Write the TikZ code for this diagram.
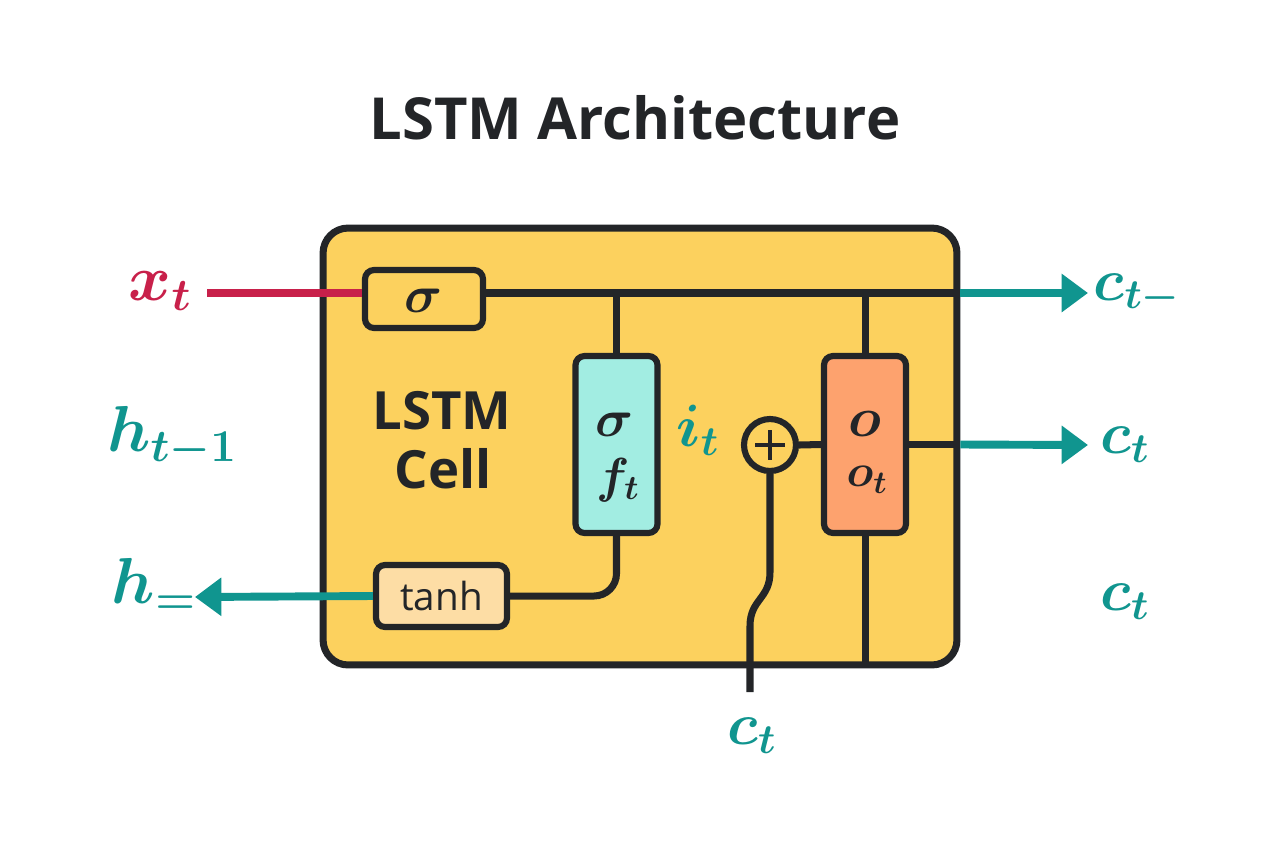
\RequirePackage{fix-cm}
\documentclass[tikz,border=0pt]{standalone}
\usepackage{fontspec}
\newfontfamily\headfont{Open Sans}
\usetikzlibrary{arrows.meta,calc}
\definecolor{ink}{HTML}{232528}
\definecolor{cellyellow}{HTML}{FCD15E}
\definecolor{gatecyan}{HTML}{A2EDE2}
\definecolor{gateorange}{HTML}{FDA26E}
\definecolor{tanhfill}{HTML}{FDDDA5}
\definecolor{tealc}{HTML}{10958F}
\definecolor{redc}{HTML}{C8204A}
\begin{document}
\begin{tikzpicture}[x=0.02cm,y=-0.02cm,
  wire/.style={draw=ink,line width=4pt},
  redwire/.style={draw=redc,line width=4.5pt},
  tealwire/.style={draw=tealc,line width=4.5pt,-{Triangle[length=15pt,width=21pt]}},
  gate/.style={draw=ink,line width=3.5pt,rounded corners=0.18cm,inner sep=0pt},
  biglabel/.style={font=\fontsize{37}{44}\selectfont\boldmath,inner sep=0pt},
  clabel/.style={font=\fontsize{34}{40}\selectfont\boldmath,inner sep=0pt,text=tealc},
  gatetext/.style={font=\fontsize{30}{36}\selectfont\boldmath,inner sep=0pt,text=ink},
  sanstext/.style={font=\headfont\bfseries\fontsize{30}{33}\selectfont,inner sep=0pt,text=ink}]
\useasboundingbox (0,0) rectangle (1280,853);
\fill[white] (0,0) rectangle (1280,853);

% title
\node[font=\headfont\bfseries\fontsize{33}{40}\selectfont,text=ink,inner sep=0pt] (title) at (635,118) {LSTM Architecture};

% cell
\node[draw=ink,fill=cellyellow,line width=4pt,rounded corners=0.5cm,
      minimum width=12.68cm,minimum height=8.74cm] (cell) at (640,446.5) {};

% gates
\node[gate,fill=cellyellow,minimum width=2.36cm,minimum height=1.16cm] (sig) at (424,299) {};
\node[gatetext] (sigtxt) at (424,301) {$\sigma$};
\node[gate,fill=gatecyan,minimum width=1.64cm,minimum height=3.54cm] (ft) at (616.5,444.5) {};
\node[gatetext] (ftsig) at (615,425) {$\sigma$};
\node[gatetext,font=\fontsize{28}{34}\selectfont\boldmath] (ftf) at (618,480) {$f_t$};
\node[gate,fill=gateorange,minimum width=1.64cm,minimum height=3.54cm] (ot) at (865,444.5) {};
\node[gatetext,font=\fontsize{32}{38}\selectfont\boldmath] (oto) at (865,424) {$o$};
\node[gatetext,font=\fontsize{26}{32}\selectfont\boldmath] (oti) at (867,480) {$o_t$};
\node[gate,fill=tanhfill,minimum width=2.62cm,minimum height=1.24cm] (tanh) at (441.5,596) {};
\node[font=\headfont\fontsize{22}{26}\selectfont,text=ink,inner sep=0pt] (tanhtxt) at (441.5,596) {tanh};
\node[circle,draw=ink,fill=cellyellow,line width=3.5pt,minimum size=1.04cm,inner sep=0pt] (plus) at (770,445) {};
\draw[ink,line width=2.6pt] ($(plus.center)+(-15,0)$) -- ($(plus.center)+(15,0)$);
\draw[ink,line width=2.6pt] ($(plus.center)+(0,-15)$) -- ($(plus.center)+(0,15)$);

% cell text
\node[sanstext] (lstmtxt) at (442,411) {LSTM};
\node[sanstext] (celltxt) at (443,469) {Cell};
\node[clabel] (it) at (698,430) {$i_t$};

% coordinates
\coordinate (xin) at (207,293);
\coordinate (cout1) at (1088,293);
\coordinate (cout2) at (1088,445);
\coordinate (hout) at (195,597);
\coordinate (cin) at (750,692);

% wires
\draw[redwire] (xin) -- (sig.west |- xin);
\draw[wire] (sig.east |- xin) -- (cell.east |- xin);
\draw[wire] (ft.north |- xin) -- (ft.north);
\draw[wire] (ot.north |- xin) -- (ot.north);
\draw[tealwire] (cell.east |- xin) -- (cout1);
\draw[wire,rounded corners=0.45cm] (ft.south) |- (tanh.east);
\draw[tealwire] (tanh.west) -- (hout);
\draw[wire] (plus.east) -- (ot.west);
\draw[wire] (ot.east) -- (cell.east |- ot.east);
\draw[tealwire] (cell.east |- ot.east) -- (cout2);
\draw[wire] (ot.south) -- (ot.south |- cell.south);
\draw[wire] (plus.south) -- ++(0,98) .. controls +(0,27) and +(0,-27) .. ++(-20,54) -- (cin);

% outer labels
\node[biglabel,text=redc] (xt) at (160,291) {$x_t$};
\node[biglabel,text=tealc] (ht1) at (172,437) {$h_{t-1}$};
\node[biglabel,text=tealc] (heq) at (154,586) {$h_{=}$};
\node[clabel] (ctm) at (1137,294) {$c_{t-}$};
\node[clabel] (ct1) at (1125,445) {$c_t$};
\node[clabel] (ct2) at (1125,602) {$c_t$};
\node[clabel] (ct3) at (752,736) {$c_t$};
\end{tikzpicture}
\end{document}
